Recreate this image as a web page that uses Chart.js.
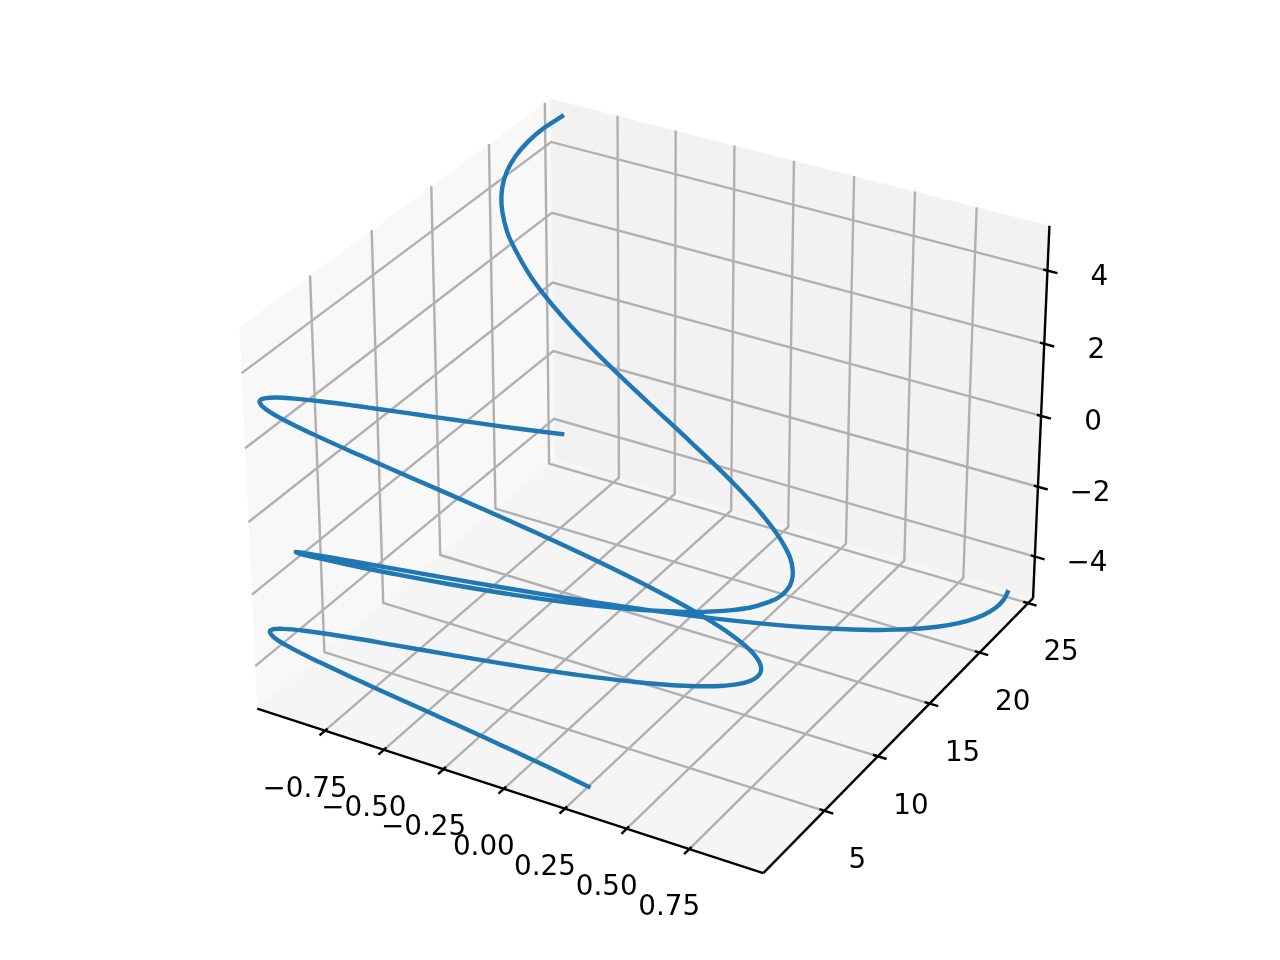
<!DOCTYPE html>
<html>
<head>
<meta charset="utf-8">
<script src="https://cdn.jsdelivr.net/npm/chart.js@4"></script>
<style>
  html, body { margin: 0; padding: 0; background: #fff; }
  canvas { display: block; }
</style>
</head>
<body>
<canvas id="chart" width="1280" height="960"></canvas>
<script>
// curve values, both curves share curveZ
const curveZ = [-5, -4.875, -4.75, -4.625, -4.5, -4.375, -4.25, -4.125, -4, -3.75, -3.5, -3.25, -3, -2.75, -2.5, -2.25, -2, -1.75, -1.5, -1.25, -1, -0.75, -0.5, -0.25, 0,
  0.25, 0.5, 0.75, 1, 1.25, 1.5, 1.75, 2, 2.25, 2.5, 2.75, 3, 3.25, 3.5, 3.75, 4, 4.125, 4.25, 4.375, 4.5, 4.625, 4.75, 4.875, 5];
const curveAX = [0.959, 0.987, 0.999, 0.996, 0.978, 0.944, 0.895, 0.832, 0.757, 0.572, 0.351, 0.108, -0.141, -0.382, -0.599, -0.778, -0.909, -0.984, -0.998, -0.949, -0.842, -0.682, -0.479, -0.247, 0,
  0.247, 0.479, 0.682, 0.842, 0.949, 0.998, 0.984, 0.909, 0.778, 0.599, 0.382, 0.141, -0.108, -0.351, -0.572, -0.757, -0.832, -0.895, -0.944, -0.978, -0.996, -0.999, -0.987, -0.959];
const curveAY = [25, 23.77, 22.56, 21.39, 20.25, 19.14, 18.06, 17.02, 16, 14.06, 12.25, 10.56, 9, 7.56, 6.25, 5.06, 4, 3.06, 2.25, 1.56, 1, 0.56, 0.25, 0.06, 0,
  0.06, 0.25, 0.56, 1, 1.56, 2.25, 3.06, 4, 5.06, 6.25, 7.56, 9, 10.56, 12.25, 14.06, 16, 17.02, 18.06, 19.14, 20.25, 21.39, 22.56, 23.77, 25];
const curveBX = [0.284, 0.163, 0.038, -0.088, -0.211, -0.331, -0.446, -0.555, -0.654, -0.821, -0.937, -0.994, -0.99, -0.924, -0.801, -0.628, -0.416, -0.178, 0.071, 0.315, 0.54, 0.732, 0.878, 0.969, 1,
  0.969, 0.878, 0.732, 0.54, 0.315, 0.071, -0.178, -0.416, -0.628, -0.801, -0.924, -0.99, -0.994, -0.937, -0.821, -0.654, -0.555, -0.446, -0.331, -0.211, -0.088, 0.038, 0.163, 0.284];
const curveBY = [0.959, 0.987, 0.999, 0.996, 0.978, 0.944, 0.895, 0.832, 0.757, 0.572, 0.351, 0.108, -0.141, -0.382, -0.599, -0.778, -0.909, -0.984, -0.998, -0.949, -0.842, -0.682, -0.479, -0.247, 0,
  0.247, 0.479, 0.682, 0.842, 0.949, 0.998, 0.984, 0.909, 0.778, 0.599, 0.382, 0.141, -0.108, -0.351, -0.572, -0.757, -0.832, -0.895, -0.944, -0.978, -0.996, -0.999, -0.987, -0.959];

const xTicks = [-0.75, -0.5, -0.25, 0, 0.25, 0.5, 0.75];
const yTicks = [5, 10, 15, 20, 25];
const zTicks = [-4, -2, 0, 2, 4];
const xTickLabels = ["\u22120.75", "\u22120.50", "\u22120.25", "0.00", "0.25", "0.50", "0.75"];
const yTickLabels = ["5", "10", "15", "20", "25"];
const zTickLabels = ["\u22124", "\u22122", "0", "2", "4"];

const xLim = [-1.0417, 1.0417];
const yLim = [-0.52, 25.52];
const zLim = [-5.208, 5.208];

// camera of a default mplot3d view (elev 30, azim -60, box 4:4:3)
const boxSize = [1.1428, 1.1428, 0.8571];
const camU = [0.866, 0.5, 0];
const camV = [-0.25, 0.433, 0.866];
const camW = [0.433, -0.75, 0.5];
const camDist = 10;

// plane units <-> canvas
const planeScale = 5075;
const planeCx = 652;
const planeCy = 468;

function project(x, y, z) {
  const p = [
    ((x - xLim[0]) / (xLim[1] - xLim[0]) - 0.5) * boxSize[0],
    ((y - yLim[0]) / (yLim[1] - yLim[0]) - 0.5) * boxSize[1],
    ((z - zLim[0]) / (zLim[1] - zLim[0]) - 0.5) * boxSize[2],
  ];
  const dot = (a) => a[0] * p[0] + a[1] * p[1] + a[2] * p[2];
  const depth = camDist - dot(camW);
  return { x: dot(camU) / depth, y: dot(camV) / depth };
}

function polyline(points, color, width) {
  return {
    data: points.map((p) => project(p[0], p[1], p[2])),
    showLine: true,
    borderColor: color,
    borderWidth: width,
    pointRadius: 0,
    borderCapStyle: "butt",
    fill: false,
  };
}

function pane(points, color) {
  return {
    data: points.map((p) => project(p[0], p[1], p[2])),
    showLine: true,
    borderWidth: 0,
    borderColor: color,
    backgroundColor: color,
    pointRadius: 0,
    fill: "shape",
  };
}

function curve(xs, ys) {
  const ds = polyline(curveZ.map((z, i) => [xs[i], ys[i], z]), "#1f77b4", 4.4);
  ds.tension = 0.4;
  return ds;
}

const [x0, x1] = xLim;
const [y0, y1] = yLim;
const [z0, z1] = zLim;
const gridColor = "#b0b0b0";
const datasets = [];

datasets.push(pane([[x0, y0, z0], [x0, y1, z0], [x0, y1, z1], [x0, y0, z1], [x0, y0, z0]], "#f8f8f8"));
datasets.push(pane([[x0, y1, z0], [x1, y1, z0], [x1, y1, z1], [x0, y1, z1], [x0, y1, z0]], "#f2f2f2"));
datasets.push(pane([[x0, y0, z0], [x1, y0, z0], [x1, y1, z0], [x0, y1, z0], [x0, y0, z0]], "#f5f5f5"));

xTicks.forEach((x) => datasets.push(polyline([[x, y0, z0], [x, y1, z0], [x, y1, z1]], gridColor, 2.4)));
yTicks.forEach((y) => datasets.push(polyline([[x1, y, z0], [x0, y, z0], [x0, y, z1]], gridColor, 2.4)));
zTicks.forEach((z) => datasets.push(polyline([[x1, y1, z], [x0, y1, z], [x0, y0, z]], gridColor, 2.4)));

datasets.push(polyline([[x0, y0, z0], [x1, y0, z0]], "#000", 2.4));
datasets.push(polyline([[x1, y0, z0], [x1, y1, z0]], "#000", 2.4));
datasets.push(polyline([[x1, y1, z0], [x1, y1, z1]], "#000", 2.4));

xTicks.forEach((x) => datasets.push(polyline([[x, y0 + 0.2, z0], [x, y0 - 0.45, z0]], "#000", 2.4)));
yTicks.forEach((y) => datasets.push(polyline([[x1 - 0.02, y, z0], [x1 + 0.035, y, z0]], "#000", 2.4)));
zTicks.forEach((z) => datasets.push(polyline([[x1 - 0.017, y1, z], [x1 + 0.04, y1, z]], "#000", 2.4)));

datasets.push(curve(curveAX, curveAY));
datasets.push(curve(curveBX, curveBY));

// chart.js paints dataset 0 last, so later pushes get a lower order
datasets.forEach((ds, i) => { ds.order = datasets.length - i; });

const tickLabelPlugin = {
  id: "tickLabels",
  afterDatasetsDraw(chart) {
    const { ctx, scales } = chart;
    const put = (text, pos, dx, dy) => {
      ctx.fillText(text, scales.x.getPixelForValue(pos.x) + dx, scales.y.getPixelForValue(pos.y) + dy);
    };
    ctx.save();
    ctx.fillStyle = "#000";
    ctx.font = '27.8px "DejaVu Sans"';
    ctx.textAlign = "center";
    ctx.textBaseline = "middle";
    xTicks.forEach((x, i) => put(xTickLabels[i], project(x, y0, z0), -20, 59));
    yTicks.forEach((y, i) => put(yTickLabels[i], project(x1, y, z0), 33, 50));
    zTicks.forEach((z, i) => put(zTickLabels[i], project(x1, y1, z), 52, 7));
    ctx.restore();
  },
};

new Chart(document.getElementById("chart"), {
  type: "scatter",
  data: { datasets: datasets },
  options: {
    responsive: false,
    animation: false,
    devicePixelRatio: 1,
    layout: { padding: 0 },
    plugins: { legend: { display: false }, tooltip: { enabled: false } },
    scales: {
      x: { display: false, min: -planeCx / planeScale, max: (1280 - planeCx) / planeScale },
      y: { display: false, min: (planeCy - 960) / planeScale, max: planeCy / planeScale },
    },
  },
  plugins: [tickLabelPlugin],
});
</script>
</body>
</html>
